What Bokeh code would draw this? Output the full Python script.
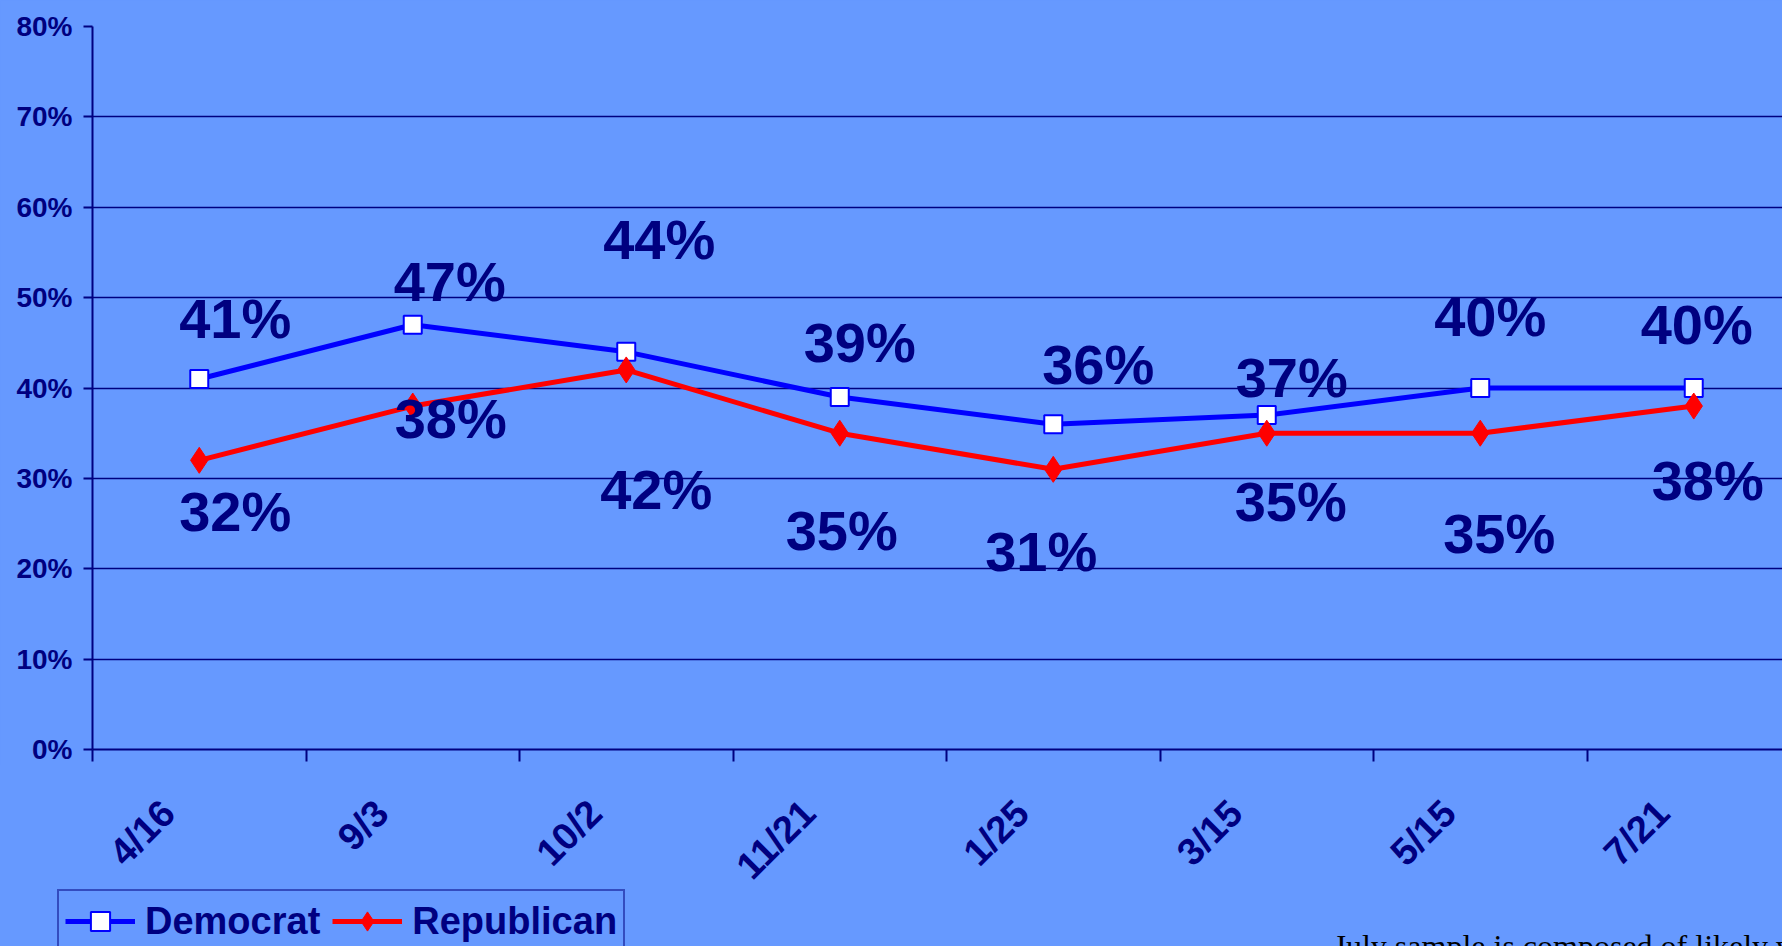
from bokeh.plotting import figure
from bokeh.layouts import column
from bokeh.models import (Range1d, FixedTicker, PrintfTickFormatter, ColumnDataSource,
                          Legend, LegendItem, Label)
from bokeh.core.properties import value
from bokeh.embed import file_html
from bokeh.resources import INLINE
import math

# ---- data ----
categories = ["4/16", "9/3", "10/2", "11/21", "1/25", "3/15", "5/15", "7/21"]
democrat = [41, 47, 44, 39, 36, 37, 40, 40]
republican = [32, 38, 42, 35, 31, 35, 35, 38]
y_ticks = [0, 10, 20, 30, 40, 50, 60, 70, 80]
footnote = "July sample is composed of likely voters"

# data-label offsets in screen pixels (manual placement as in the original)
dem_label_dx = [36, 37, 33, 20, 45, 25, 10, 3]
dem_label_dy = [-60, -43, -112, -55, -60, -38, -72, -64]
rep_label_dx = [36, 38, 30, 2, -12, 24, 19, 14]
rep_label_dy = [51, 12, 120, 97, 82, 68, 100, 74]

BG = "#6699FF"
NAVY = "#000080"
FONT = "Liberation Sans"

W = 1782
H1, HB = 764, 182          # chart / strip below (category labels, legend, footnote)
LEFT, TOP, BOTTOM = 92, 26, 764 - 749
CAT_PX = 213.5
frame_w = W - LEFT

xs = [i + 0.5 for i in range(len(categories))]
boundaries = list(range(len(categories) + 1))

p = figure(width=W, height=H1, output_backend="svg", toolbar_location=None,
           x_range=Range1d(0, frame_w / CAT_PX), y_range=Range1d(0, 80),
           min_border_left=LEFT, min_border_right=0, min_border_top=TOP,
           min_border_bottom=BOTTOM,
           background_fill_color=BG, border_fill_color=BG, outline_line_color=None)

# grid
p.xgrid.grid_line_color = None
p.ygrid.grid_line_color = NAVY
p.ygrid.grid_line_width = 1.5
p.ygrid.ticker = FixedTicker(ticks=y_ticks)

# y axis
p.yaxis.ticker = FixedTicker(ticks=y_ticks)
p.yaxis.formatter = PrintfTickFormatter(format="%d%%")
p.yaxis.axis_line_color = NAVY
p.yaxis.axis_line_width = 2
p.yaxis.major_tick_line_color = NAVY
p.yaxis.major_tick_line_width = 2
p.yaxis.major_tick_out = 9
p.yaxis.major_tick_in = 0
p.yaxis.minor_tick_line_color = None
p.yaxis.major_label_text_font = FONT
p.yaxis.major_label_text_font_style = "bold"
p.yaxis.major_label_text_font_size = "28px"
p.yaxis.major_label_text_color = NAVY
p.yaxis.major_label_standoff = 11

# x axis: only tick marks at the category boundaries
p.xaxis.ticker = FixedTicker(ticks=[], minor_ticks=boundaries)
p.xaxis.axis_line_color = NAVY
p.xaxis.axis_line_width = 2
p.xaxis.major_tick_line_color = None
p.xaxis.minor_tick_line_color = NAVY
p.xaxis.minor_tick_line_width = 2
p.xaxis.minor_tick_out = 12
p.xaxis.minor_tick_in = 0
p.xaxis.major_label_standoff = 0

# series
dem_src = ColumnDataSource(dict(x=xs, y=democrat, text=[f"{v}%" for v in democrat],
                                dx=dem_label_dx, dy=dem_label_dy))
rep_src = ColumnDataSource(dict(x=xs, y=republican, text=[f"{v}%" for v in republican],
                                dx=rep_label_dx, dy=rep_label_dy))

DEM_LINE = dict(line_color="#0000FF", line_width=5)
REP_LINE = dict(line_color="#FF0000", line_width=5)
DEM_MARK = dict(marker="square", size=18, fill_color="white", line_color="#0000FF", line_width=2)
REP_MARK = dict(marker="diamond", size=26, fill_color="#FF0000", line_color="#FF0000", line_width=1)

p.line("x", "y", source=dem_src, **DEM_LINE)
p.line("x", "y", source=rep_src, **REP_LINE)
p.scatter("x", "y", source=dem_src, **DEM_MARK)
p.scatter("x", "y", source=rep_src, **REP_MARK)

for src in (dem_src, rep_src):
    p.text(x="x", y="y", text="text", x_offset="dx", y_offset="dy", source=src,
           text_font=value(FONT), text_font_style="bold", text_font_size="56px",
           text_color=NAVY, text_align="center", text_baseline="middle")

# ---- strip below: rotated category labels (same horizontal scale), legend, footnote ----
pb = figure(width=W, height=HB, output_backend="svg", toolbar_location=None,
            x_axis_type=None, y_axis_type=None,
            x_range=Range1d(-LEFT / CAT_PX, frame_w / CAT_PX), y_range=Range1d(0, 1),
            min_border_left=0, min_border_right=0, min_border_top=0, min_border_bottom=0,
            background_fill_color=BG, border_fill_color=BG, outline_line_color=None)

for fig in (p, pb):
    if "frame_align" in fig.properties():
        fig.frame_align = False

cat_src = ColumnDataSource(dict(x=xs, text=categories))
pb.text(x="x", y=1, text="text", source=cat_src, angle=math.pi / 4,
        x_offset=-31, y_offset=42,
        text_font=value(FONT), text_font_style="bold", text_font_size="38px",
        text_color=NAVY, text_align="right", text_baseline="middle")

# same series (outside this strip's view) so the legend can show their glyphs
d_l = pb.line("x", "y", source=dem_src, **DEM_LINE)
d_m = pb.scatter("x", "y", source=dem_src, **DEM_MARK)
r_l = pb.line("x", "y", source=rep_src, **REP_LINE)
r_m = pb.scatter("x", "y", source=rep_src, **REP_MARK)

legend = Legend(items=[LegendItem(label="Democrat", renderers=[d_l, d_m]),
                       LegendItem(label="Republican", renderers=[r_l, r_m])],
                location=(57, -7), orientation="horizontal",
                label_text_font=FONT, label_text_font_style="bold",
                label_text_font_size="38px", label_text_color=NAVY,
                glyph_width=70, glyph_height=48, label_standoff=10, spacing=12,
                padding=6, margin=0,
                border_line_color=NAVY, border_line_width=2,
                background_fill_color=BG, background_fill_alpha=1.0)
pb.add_layout(legend)

pb.add_layout(Label(x=1333, y=1, x_units="screen", y_units="screen",
                    text=footnote, text_font="Liberation Serif", text_font_size="32px",
                    text_color="black", text_baseline="alphabetic", text_align="left"))

layout = column(p, pb, spacing=0)

html = file_html(layout, INLINE)
html = html.replace("<head>", "<head><style>html,body{background:#6699FF;}</style>", 1)
open("out.html", "w").write(html)
